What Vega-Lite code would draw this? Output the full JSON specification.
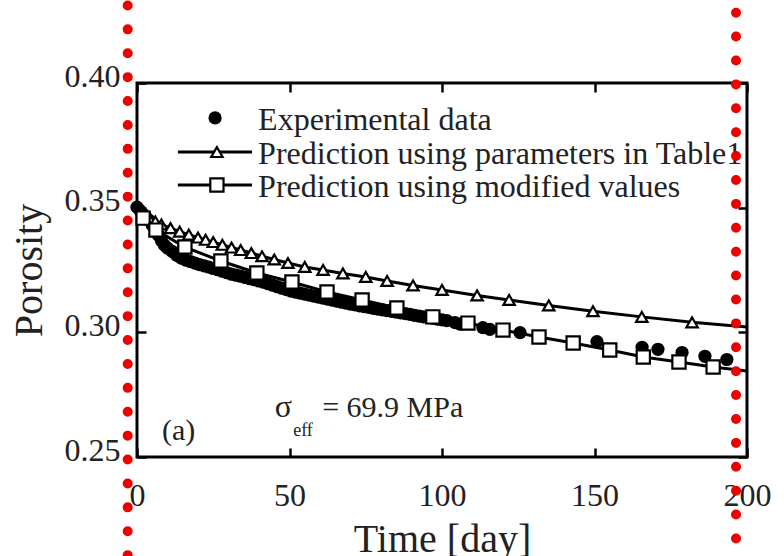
{
  "$schema": "https://vega.github.io/schema/vega-lite/v6.json",
  "width": 610,
  "height": 374,
  "autosize": {"type": "none"},
  "padding": {"left": 137, "top": 83, "right": 37, "bottom": 99},
  "background": "white",
  "datasets": {
    "exp": [
      {"t":0,"p":0.3502},{"t":1,"p":0.3488},{"t":2,"p":0.3474},{"t":3,"p":0.3461},{"t":4,"p":0.3449},{"t":5,"p":0.3430},{"t":6,"p":0.3410},{"t":7,"p":0.3390},{"t":8,"p":0.3368},{"t":9,"p":0.3350},{"t":10,"p":0.3338},{"t":11.5,"p":0.3325},{"t":13,"p":0.3309},{"t":14.5,"p":0.3298},{"t":16,"p":0.3290},{"t":17.5,"p":0.3284},{"t":19,"p":0.3278},{"t":20.5,"p":0.3272},{"t":22,"p":0.3267},{"t":23.5,"p":0.3262},{"t":25,"p":0.3256},{"t":26.5,"p":0.3251},{"t":28,"p":0.3245},{"t":29.5,"p":0.3239},{"t":31,"p":0.3233},{"t":32.5,"p":0.3229},{"t":34,"p":0.3225},{"t":35.5,"p":0.3220},{"t":37,"p":0.3215},{"t":38.5,"p":0.3211},{"t":40,"p":0.3206},{"t":41.5,"p":0.3201},{"t":43,"p":0.3195},{"t":44.5,"p":0.3189},{"t":46,"p":0.3183},{"t":47.5,"p":0.3177},{"t":49,"p":0.3171},{"t":50.5,"p":0.3165},{"t":52,"p":0.3161},{"t":53.5,"p":0.3157},{"t":55,"p":0.3153},{"t":56.5,"p":0.3149},{"t":58,"p":0.3145},{"t":59.5,"p":0.3141},{"t":61,"p":0.3137},{"t":62.5,"p":0.3133},{"t":64,"p":0.3129},{"t":65.5,"p":0.3125},{"t":67,"p":0.3121},{"t":68.5,"p":0.3117},{"t":70,"p":0.3113},{"t":71.5,"p":0.3110},{"t":73,"p":0.3106},{"t":74.5,"p":0.3103},{"t":76,"p":0.3100},{"t":77.5,"p":0.3096},{"t":79,"p":0.3093},{"t":80.5,"p":0.3090},{"t":82,"p":0.3087},{"t":83.5,"p":0.3084},{"t":85,"p":0.3081},{"t":86.5,"p":0.3078},{"t":88,"p":0.3075},{"t":89.5,"p":0.3072},{"t":91,"p":0.3068},{"t":92.5,"p":0.3065},{"t":94,"p":0.3062},{"t":95.5,"p":0.3059},{"t":97,"p":0.3056},{"t":98.5,"p":0.3053},{"t":100,"p":0.3050},{"t":101.6,"p":0.3047},{"t":104.3,"p":0.3039},{"t":105.9,"p":0.3033},{"t":113.4,"p":0.3019},{"t":115.7,"p":0.3012},{"t":125.6,"p":0.2999},{"t":150.8,"p":0.2963},{"t":165.6,"p":0.2940},{"t":170.8,"p":0.2932},{"t":178.7,"p":0.2919},{"t":186.2,"p":0.2904},{"t":193.4,"p":0.2891}
    ],
    "table1": [
      {"t":0,"p":0.3500},{"t":2,"p":0.3475},{"t":4,"p":0.3458},{"t":6,"p":0.3445},{"t":8,"p":0.3433},{"t":11,"p":0.3418},{"t":14,"p":0.3404},{"t":17,"p":0.3392},{"t":20,"p":0.3380},{"t":22.5,"p":0.3371},{"t":25,"p":0.3362},{"t":28,"p":0.3351},{"t":31,"p":0.3340},{"t":34,"p":0.3330},{"t":37.5,"p":0.3318},{"t":41,"p":0.3305},{"t":45,"p":0.3292},{"t":49.5,"p":0.3278},{"t":55,"p":0.3262},{"t":61,"p":0.3250},{"t":67.5,"p":0.3236},{"t":75,"p":0.3222},{"t":82,"p":0.3206},{"t":90.5,"p":0.3188},{"t":100,"p":0.3170},{"t":111.5,"p":0.3148},{"t":122,"p":0.3130},{"t":135,"p":0.3108},{"t":149.5,"p":0.3085},{"t":165.5,"p":0.3062},{"t":182,"p":0.3040},{"t":200,"p":0.3021}
    ],
    "modified": [
      {"t":0,"p":0.3500},{"t":2,"p":0.3458},{"t":6.2,"p":0.3410},{"t":15.7,"p":0.3342},{"t":27.5,"p":0.3286},{"t":39.3,"p":0.3238},{"t":50.8,"p":0.3202},{"t":62.3,"p":0.3162},{"t":73.8,"p":0.3130},{"t":85.2,"p":0.3098},{"t":97,"p":0.3062},{"t":108.5,"p":0.3037},{"t":120,"p":0.3009},{"t":131.8,"p":0.2981},{"t":143,"p":0.2957},{"t":155,"p":0.2929},{"t":166,"p":0.2901},{"t":177.7,"p":0.2881},{"t":188.9,"p":0.2861},{"t":200,"p":0.2845}
    ],
    "legendText": [
      {"t":39.7,"p":0.3860,"label":"Experimental data"},
      {"t":39.7,"p":0.3723,"label":"Prediction using parameters in Table1"},
      {"t":39.7,"p":0.3591,"label":"Prediction using modified values"}
    ],
    "legendLines": [
      {"series":"table1","t":13.4,"p":0.3723},{"series":"table1","t":37.7,"p":0.3723},
      {"series":"modified","t":13.4,"p":0.3591},{"series":"modified","t":37.7,"p":0.3591}
    ],
    "legendCircle": [{"t":25.6,"p":0.3860}],
    "legendTri": [{"t":26.2,"p":0.3723}],
    "legendSq": [{"t":26.2,"p":0.3591}],
    "sigma": [{"t":45.2,"p":0.2660,"txt":"σ"}],
    "sub": [{"t":51.2,"p":0.2584,"txt":"eff"}],
    "eq": [{"t":60.7,"p":0.2660,"txt":"= 69.9 MPa"}],
    "panel": [{"t":8.2,"p":0.2568,"txt":"(a)"}],
    "redLines": [{"t":-3.05,"top":0.4311,"bottom":0.2},{"t":196.4,"top":0.4282,"bottom":0.2}]
  },
  "resolve": {"axis": {"x": "independent", "y": "independent"}},
  "layer": [
    {
      "data": {"name": "exp"},
      "mark": {"type": "point", "shape": "circle", "filled": true, "color": "black", "size": 175, "opacity": 1},
      "encoding": {
        "x": {"field": "t", "type": "quantitative", "scale": {"domain": [0, 200], "nice": false, "zero": false},
          "axis": {"orient": "bottom", "values": [0, 50, 100, 150, 200], "title": "Time [day]", "labelPadding": 32, "titlePadding": 8}},
        "y": {"field": "p", "type": "quantitative", "scale": {"domain": [0.25, 0.40], "nice": false, "zero": false},
          "axis": {"orient": "left", "values": [0.25, 0.30, 0.35, 0.40], "format": ".2f", "title": "Porosity", "labelPadding": 26, "labelOffset": -7, "titlePadding": 15}}
      }
    },
    {
      "data": {"name": "table1"},
      "mark": {"type": "line", "color": "black", "strokeWidth": 3},
      "encoding": {
        "x": {"field": "t", "type": "quantitative", "axis": {"orient": "top", "values": [0, 50, 100, 150, 200], "labels": false, "title": null}},
        "y": {"field": "p", "type": "quantitative", "axis": {"orient": "right", "values": [0.25, 0.30, 0.35, 0.40], "labels": false, "title": null}}
      }
    },
    {
      "data": {"name": "modified"},
      "mark": {"type": "line", "color": "black", "strokeWidth": 3},
      "encoding": {
        "x": {"field": "t", "type": "quantitative", "axis": null},
        "y": {"field": "p", "type": "quantitative", "axis": null}
      }
    },
    {
      "data": {"name": "table1"},
      "transform": [{"filter": "datum.t > 0 && datum.t < 195"}],
      "mark": {"type": "point", "shape": "triangle-up", "filled": true, "fill": "white", "stroke": "black", "strokeWidth": 2.2, "size": 130, "opacity": 1},
      "encoding": {
        "x": {"field": "t", "type": "quantitative", "axis": null},
        "y": {"field": "p", "type": "quantitative", "axis": null}
      }
    },
    {
      "data": {"name": "modified"},
      "transform": [{"filter": "datum.t > 0 && datum.t < 195"}],
      "mark": {"type": "point", "shape": "square", "filled": true, "fill": "white", "stroke": "black", "strokeWidth": 2.2, "size": 175, "opacity": 1},
      "encoding": {
        "x": {"field": "t", "type": "quantitative", "axis": null},
        "y": {"field": "p", "type": "quantitative", "axis": null}
      }
    },
    {
      "data": {"name": "legendLines"},
      "mark": {"type": "line", "color": "black", "strokeWidth": 3},
      "encoding": {
        "x": {"field": "t", "type": "quantitative", "axis": null},
        "y": {"field": "p", "type": "quantitative", "axis": null},
        "detail": {"field": "series"}
      }
    },
    {
      "data": {"name": "legendCircle"},
      "mark": {"type": "point", "shape": "circle", "filled": true, "color": "black", "size": 175, "opacity": 1},
      "encoding": {
        "x": {"field": "t", "type": "quantitative", "axis": null},
        "y": {"field": "p", "type": "quantitative", "axis": null}
      }
    },
    {
      "data": {"name": "legendTri"},
      "mark": {"type": "point", "shape": "triangle-up", "filled": true, "fill": "white", "stroke": "black", "strokeWidth": 2.2, "size": 130, "opacity": 1},
      "encoding": {
        "x": {"field": "t", "type": "quantitative", "axis": null},
        "y": {"field": "p", "type": "quantitative", "axis": null}
      }
    },
    {
      "data": {"name": "legendSq"},
      "mark": {"type": "point", "shape": "square", "filled": true, "fill": "white", "stroke": "black", "strokeWidth": 2.2, "size": 175, "opacity": 1},
      "encoding": {
        "x": {"field": "t", "type": "quantitative", "axis": null},
        "y": {"field": "p", "type": "quantitative", "axis": null}
      }
    },
    {
      "data": {"name": "legendText"},
      "mark": {"type": "text", "align": "left", "baseline": "middle", "font": "Liberation Serif", "fontSize": 32, "color": "#222", "dy": 2},
      "encoding": {
        "x": {"field": "t", "type": "quantitative", "axis": null},
        "y": {"field": "p", "type": "quantitative", "axis": null},
        "text": {"field": "label"}
      }
    },
    {
      "data": {"name": "sigma"},
      "mark": {"type": "text", "align": "left", "baseline": "alphabetic", "font": "Liberation Serif", "fontSize": 32, "color": "#222"},
      "encoding": {
        "x": {"field": "t", "type": "quantitative", "axis": null},
        "y": {"field": "p", "type": "quantitative", "axis": null},
        "text": {"field": "txt"}
      }
    },
    {
      "data": {"name": "sub"},
      "mark": {"type": "text", "align": "left", "baseline": "alphabetic", "font": "Liberation Serif", "fontSize": 18, "color": "#222"},
      "encoding": {
        "x": {"field": "t", "type": "quantitative", "axis": null},
        "y": {"field": "p", "type": "quantitative", "axis": null},
        "text": {"field": "txt"}
      }
    },
    {
      "data": {"name": "eq"},
      "mark": {"type": "text", "align": "left", "baseline": "alphabetic", "font": "Liberation Serif", "fontSize": 30, "color": "#222"},
      "encoding": {
        "x": {"field": "t", "type": "quantitative", "axis": null},
        "y": {"field": "p", "type": "quantitative", "axis": null},
        "text": {"field": "txt"}
      }
    },
    {
      "data": {"name": "panel"},
      "mark": {"type": "text", "align": "left", "baseline": "alphabetic", "font": "Liberation Serif", "fontSize": 30, "color": "#222"},
      "encoding": {
        "x": {"field": "t", "type": "quantitative", "axis": null},
        "y": {"field": "p", "type": "quantitative", "axis": null},
        "text": {"field": "txt"}
      }
    },
    {
      "data": {"name": "redLines"},
      "mark": {"type": "rule", "color": "#ee0000", "strokeWidth": 10, "strokeCap": "round", "strokeDash": [0, 23.9], "clip": false},
      "encoding": {
        "x": {"field": "t", "type": "quantitative", "axis": null},
        "y": {"field": "top", "type": "quantitative", "axis": null},
        "y2": {"field": "bottom"}
      }
    }
  ],
  "config": {
    "view": {"stroke": "black", "strokeWidth": 3},
    "axis": {
      "grid": false, "domain": false, "tickSize": -9, "tickWidth": 2.5, "tickColor": "black",
      "labelFont": "Liberation Serif", "labelFontSize": 32, "labelColor": "#222",
      "labelOverlap": false, "labelFlush": false, "labelBound": false,
      "titleFont": "Liberation Serif", "titleFontSize": 40, "titleFontWeight": "normal", "titleColor": "#222"
    }
  }
}
